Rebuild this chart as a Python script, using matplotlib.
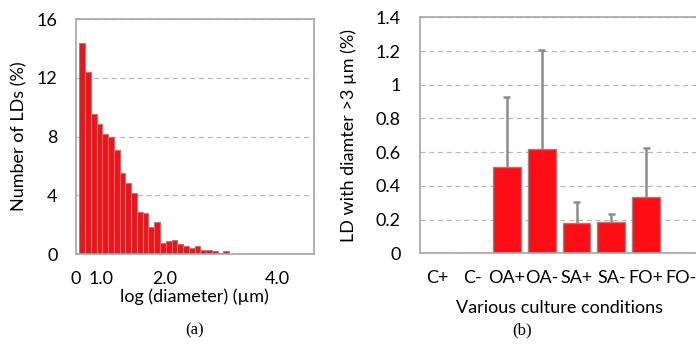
import matplotlib
matplotlib.use('Agg')
import matplotlib.pyplot as plt
import numpy as np

plt.rcParams['font.family'] = ['Lato', 'DejaVu Sans']

# (a) histogram of LD sizes, % per bin
hist_pct = [14.4, 12.4, 9.55, 8.85, 8.2, 7.95, 7.1, 5.5, 4.85, 4.15,
            2.85, 2.8, 1.85, 2.15, 0.75, 0.9, 0.95, 0.7, 0.55, 0.4,
            0.55, 0.3, 0.3, 0.22, 0.05, 0.18, 0.03, 0.03, 0.03, 0.03,
            0.03, 0.0, 0.03, 0.03, 0.0, 0.0, 0.03, 0.0, 0.0, 0.03, 0.03]
hist_tick_pos = [-1.13, 3.3, 14.4, 33.9]
hist_tick_lbl = ['0', '1.0', '2.0', '4.0']

# (b) LDs with diameter > 3 um per condition
conditions = ['C+', 'C-', 'OA+', 'OA-', 'SA+', 'SA-', 'FO+', 'FO-']
ld_mean = [0, 0, 0.51, 0.617, 0.178, 0.184, 0.336, 0]
ld_err = [0, 0, 0.42, 0.59, 0.128, 0.047, 0.287, 0]

red = '#fe0d14'
edge = '#8a8a8a'
spine_c = '#a6a6a6'
grid_c = '#b8b8b8'

fig = plt.figure(figsize=(6.96, 3.56), dpi=100)

# ---- (a)
ax1 = fig.add_axes([0.1088, 0.2865, 0.3417, 0.6593])
x = np.arange(len(hist_pct))
ax1.bar(x, hist_pct, width=1.0, color=red, edgecolor=edge, linewidth=0.8)
ax1.set_xlim(-0.5, 40.15)
ax1.set_ylim(0, 16)
ax1.set_yticks([0, 4, 8, 12, 16])
ax1.set_xticks(hist_tick_pos)
ax1.set_xticklabels(hist_tick_lbl)
ax1.yaxis.grid(True, ls=(0, (4, 3)), color=grid_c, lw=0.9)
ax1.set_axisbelow(True)
ax1.tick_params(length=0, labelsize=13, colors='black')
ax1.tick_params(axis='x', pad=12)
ax1.tick_params(axis='y', pad=13)
for s in ax1.spines.values():
    s.set_color(spine_c)
    s.set_linewidth(1.2)
ax1.set_ylabel('Number of LDs (%)', fontsize=13)
ax1.yaxis.set_label_coords(-0.205, 0.5)
ax1.set_xlabel('log (diameter) (µm)', fontsize=13, va='center')
ax1.xaxis.set_label_coords(0.5, -0.18)

# ---- (b)
ax2 = fig.add_axes([0.6034, 0.2885, 0.4000, 0.6629])
xc = np.arange(len(conditions))
# upper error bars only, drawn behind the bars
for i in range(len(ld_mean)):
    if ld_err[i] > 0:
        top = ld_mean[i] + ld_err[i]
        ax2.vlines(xc[i], ld_mean[i], top, color='#8c8c8c', lw=1.8, zorder=1.5)
        ax2.hlines(top, xc[i] - 0.1, xc[i] + 0.1, color='#8c8c8c', lw=1.8, zorder=1.5)
ax2.bar(xc, ld_mean, width=0.8, color=red, edgecolor=edge, linewidth=1.0, zorder=2)
ax2.set_xlim(-0.5, 7.5)
ax2.set_ylim(0, 1.4)
ax2.set_yticks([0, 0.2, 0.4, 0.6, 0.8, 1.0, 1.2, 1.4])
ax2.set_yticklabels(['0', '0.2', '0.4', '0.6', '0.8', '1', '1.2', '1.4'])
ax2.set_xticks(xc)
ax2.set_xticklabels(conditions)
ax2.yaxis.grid(True, ls=(0, (4, 3)), color=grid_c, lw=0.9)
ax2.set_axisbelow(True)
ax2.tick_params(length=0, labelsize=13, colors='black')
ax2.tick_params(axis='x', pad=12)
ax2.tick_params(axis='y', pad=14)
for s in ax2.spines.values():
    s.set_color(spine_c)
    s.set_linewidth(1.2)
ax2.set_ylabel('LD with diamter >3 µm (%)', fontsize=13)
ax2.yaxis.set_label_coords(-0.227, 0.5)
ax2.set_xlabel('Various culture conditions', fontsize=13, va='center')
ax2.xaxis.set_label_coords(0.5, -0.23)

# captions
fig.text(0.280, 0.073, '(a)', fontsize=12, family='Liberation Serif', ha='center', va='center')
fig.text(0.750, 0.073, '(b)', fontsize=12, family='Liberation Serif', ha='center', va='center')

fig.savefig('out.png', dpi=100)
